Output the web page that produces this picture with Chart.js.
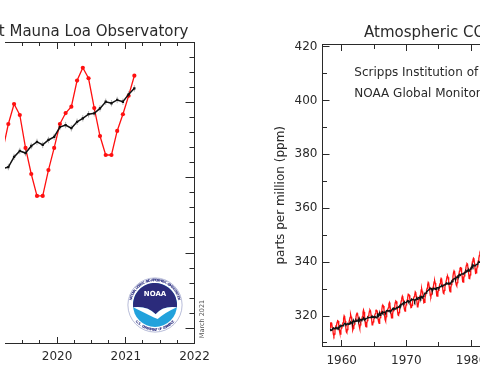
<!DOCTYPE html>
<html><head><meta charset="utf-8">
<script src="https://cdn.jsdelivr.net/npm/chart.js@4.4.1/dist/chart.umd.min.js"></script>
<style>
html,body{margin:0;padding:0;background:#fff;overflow:hidden;width:480px;height:376px;}
#wrapL{position:absolute;left:0;top:0;width:240px;height:376px;}
#wrapR{position:absolute;left:240px;top:0;width:240px;height:376px;}
canvas{display:block;}
</style></head><body>
<div id="wrapL"><canvas id="cL" width="240" height="376"></canvas></div>
<div id="wrapR"><canvas id="cR" width="240" height="376"></canvas></div>
<script>
// ---------- Left panel: recent monthly mean CO2 at Mauna Loa ----------
const leftMonths = ['2019-03','2019-04','2019-05','2019-06','2019-07','2019-08','2019-09','2019-10','2019-11','2019-12',
  '2020-01','2020-02','2020-03','2020-04','2020-05','2020-06','2020-07','2020-08','2020-09','2020-10','2020-11','2020-12',
  '2021-01','2021-02'];
const leftMonthly = [411.8,413.57,414.9,414.17,411.98,410.25,408.79,408.79,410.51,411.98,
  413.57,414.3,414.72,416.46,417.31,416.61,414.63,412.77,411.51,411.51,413.11,414.22,
  415.45,416.78];
const leftTrend = [410.6,410.71,411.38,411.78,411.64,412.11,412.38,412.18,412.51,412.71,
  413.37,413.5,413.29,413.72,413.95,414.22,414.28,414.61,415.05,414.95,415.17,415.05,
  415.54,415.94];
const leftXTicks = [2020, 2021, 2022];
const leftXMinor = [2019.5, 2019.75, 2020.25, 2020.5, 2020.75, 2021.25, 2021.5, 2021.75];
const leftYMajor = [400, 405, 410, 415];
const leftYMinor = [399,401,402,403,404,406,407,408,409,411,412,413,414,416,417,418,419];

// ---------- Right panel: atmospheric CO2 at Mauna Loa (monthly from 1958-03) ----------
const mloStart = '1958-03';
const mloMonthly = [
  315.71,317.45,317.50,317.10,315.86,314.93,313.20,312.66,313.33,314.67,
  315.62,316.38,316.71,317.72,318.29,318.15,316.54,314.80,313.84,313.26,314.80,315.58,
  316.43,316.97,317.58,319.02,320.03,319.59,318.18,315.91,314.16,313.83,315.00,316.19,
  316.93,317.70,318.54,319.48,320.58,319.77,318.57,316.79,314.80,315.38,316.10,317.01,
  317.94,318.56,319.68,320.63,321.01,320.55,319.58,317.40,316.26,315.42,316.69,317.69,
  318.74,319.08,319.86,321.39,322.25,321.47,319.74,317.77,316.21,315.99,317.12,318.31,
  319.57,320.07,320.73,321.77,322.25,321.89,320.44,318.70,316.70,316.79,317.79,318.71,
  319.44,320.44,320.89,322.13,322.16,321.87,321.39,318.81,317.81,317.30,318.87,319.42,
  320.62,321.59,322.39,323.87,324.01,323.75,322.39,320.37,318.64,318.10,319.79,321.08,
  322.07,322.50,323.04,324.42,325.00,324.09,322.55,320.92,319.31,319.31,320.72,321.96,
  322.57,323.15,323.89,325.02,325.57,325.36,324.14,322.03,320.41,320.25,321.31,322.84,
  324.00,324.42,325.64,326.66,327.34,326.76,325.88,323.67,322.38,321.78,322.85,324.11,
  325.03,325.99,326.87,328.13,328.07,327.66,326.35,324.69,323.10,323.16,323.98,325.13,
  326.17,326.68,327.18,327.78,328.92,328.57,327.34,325.46,323.36,323.57,324.80,326.01,
  326.77,327.63,327.75,329.72,330.07,329.09,328.05,326.32,324.93,325.06,326.50,327.55,
  328.54,329.56,330.30,331.50,332.48,332.07,330.87,329.31,327.51,327.18,328.16,328.64,
  329.35,330.71,331.48,332.65,333.09,332.25,331.18,329.40,327.43,327.37,328.46,329.57,
  330.40,331.40,332.04,333.31,333.96,333.59,331.91,330.06,328.56,328.34,329.49,330.76,
  331.75,332.56,333.50,334.58,334.87,334.34,333.05,330.94,329.30,328.94,330.31,331.68,
  332.93,333.42,334.70,336.07,336.74,336.27,334.93,332.75,331.58,331.16,332.40,333.85,
  334.97,335.38,336.64,337.76,338.01,337.89,336.54,334.68,332.76,332.54,333.92,334.95,
  336.23,336.76,337.96,338.89,339.47,339.29,337.73,336.09,333.91,333.86,335.29,336.73,
  338.01,338.36,340.08,340.77,341.46,341.17,339.56,337.60,335.88,336.01,337.10,338.21,
  339.24,340.48,341.38,342.51,342.91,342.25,340.49,338.43,336.69,336.85,338.36,339.61];
const mloTrend = [
  314.6,314.9,314.7,314.8,315.0,315.4,315.6,315.5,315.3,315.5,
  315.6,315.8,315.5,315.3,315.4,315.8,315.5,315.8,316.3,316.2,316.5,316.4,
  316.4,316.4,316.4,316.6,317.1,317.2,317.2,316.9,317.0,316.9,317.0,317.1,
  316.9,317.1,317.3,317.1,317.7,317.4,317.6,317.8,317.6,318.5,318.1,317.9,
  317.9,318.0,318.5,318.2,318.1,318.2,318.6,318.4,319.1,318.5,318.7,318.6,
  318.7,318.5,318.7,319.0,319.4,319.1,318.7,318.8,319.0,319.1,319.1,319.2,
  319.6,319.5,319.5,319.4,319.4,319.5,319.4,319.7,319.5,319.9,319.8,319.6,
  319.4,319.8,319.7,319.7,319.3,319.5,320.4,319.8,320.6,320.4,320.9,320.3,
  320.6,321.0,321.2,321.5,321.1,321.4,321.4,321.4,321.4,321.2,321.8,322.0,
  322.1,321.9,321.8,322.0,322.1,321.7,321.6,321.9,322.1,322.4,322.7,322.9,
  322.6,322.6,322.7,322.6,322.7,323.0,323.1,323.0,323.2,323.4,323.3,323.7,
  324.0,323.8,324.4,324.3,324.4,324.4,324.9,324.7,325.2,324.9,324.9,325.0,
  325.0,325.4,325.7,325.7,325.2,325.3,325.4,325.7,325.9,326.3,326.0,326.0,
  326.2,326.1,326.0,325.4,326.0,326.2,326.3,326.5,326.2,326.7,326.8,326.9,
  326.8,327.0,326.6,327.3,327.2,326.7,327.1,327.3,327.7,328.2,328.5,328.5,
  328.5,329.0,329.1,329.1,329.6,329.7,329.9,330.3,330.3,330.3,330.2,329.5,
  329.4,330.1,330.3,330.3,330.2,329.9,330.2,330.4,330.2,330.5,330.5,330.5,
  330.4,330.8,330.8,330.9,331.1,331.2,330.9,331.1,331.4,331.4,331.5,331.7,
  331.8,332.0,332.3,332.2,332.0,331.9,332.1,331.9,332.1,332.0,332.3,332.6,
  332.9,332.8,333.5,333.7,333.8,333.9,333.9,333.8,334.4,334.3,334.4,334.8,
  335.0,334.8,335.4,335.4,335.1,335.5,335.5,335.7,335.6,335.6,335.9,335.9,
  336.2,336.2,336.8,336.5,336.6,336.9,336.7,337.1,336.7,337.0,337.3,337.6,
  338.0,337.8,338.9,338.4,338.6,338.8,338.6,338.6,338.7,339.1,339.1,339.1,
  339.2,339.9,340.2,340.1,340.0,339.9,339.5,339.4,339.5,340.0,340.4,340.5];
const rightXTicks = [1960, 1970, 1980];
const rightXMinor = [1965, 1975];
const rightYTicks = [320, 340, 360, 380, 400, 420];
const rightYMinor = [310, 330, 350, 370, 390, 410];

// ---------- helpers ----------
Chart.defaults.font.family = "'DejaVu Sans', sans-serif";
Chart.defaults.color = '#2a2a2a';
const FONT = "'DejaVu Sans', sans-serif";
const TXT = '#2a2a2a';

function monthToYear(s) { const [y, m] = s.split('-').map(Number); return y + (m - 0.5) / 12; }
function monthSeq(start, n) {
  let [y, m] = start.split('-').map(Number); const out = [];
  for (let i = 0; i < n; i++) { out.push(y + (m - 0.5) / 12); m++; if (m > 12) { m = 1; y++; } }
  return out;
}
const pairs = (xs, ys) => ys.map((v, i) => ({x: xs[i], y: v}));
const snap = v => Math.round(v - 0.5) + 0.5;

function framePlugin(cfg) {
  return {
    id: 'frame_' + cfg.name,
    afterDatasetsDraw(chart) {
      const {ctx, chartArea: a, scales: {x, y}} = chart;
      const L = snap(a.left), R = snap(a.right), T = snap(a.top), B = snap(a.bottom);
      ctx.save();
      ctx.strokeStyle = '#2a2a2a'; ctx.lineWidth = 1;
      ctx.beginPath();
      if (cfg.sides.includes('top')) { ctx.moveTo(L - 0.5, T); ctx.lineTo(R + 0.5, T); }
      if (cfg.sides.includes('bottom')) { ctx.moveTo(L - 0.5, B); ctx.lineTo(R + 0.5, B); }
      if (cfg.sides.includes('left')) { ctx.moveTo(L, T); ctx.lineTo(L, B); }
      if (cfg.sides.includes('right')) { ctx.moveTo(R, T); ctx.lineTo(R, B); }
      const xt = (vals, len) => vals.forEach(v => {
        const p = snap(x.getPixelForValue(v));
        if (p < a.left - 1 || p > a.right + 1) return;
        if (cfg.sides.includes('top')) { ctx.moveTo(p, T); ctx.lineTo(p, T + len); }
        if (cfg.sides.includes('bottom')) { ctx.moveTo(p, B); ctx.lineTo(p, B - len); }
      });
      const yt = (vals, len) => vals.forEach(v => {
        const p = snap(y.getPixelForValue(v));
        if (p < a.top - 1 || p > a.bottom + 1) return;
        if (cfg.sides.includes('left')) { ctx.moveTo(L, p); ctx.lineTo(L + len, p); }
        if (cfg.sides.includes('right')) { ctx.moveTo(R, p); ctx.lineTo(R - len, p); }
      });
      xt(cfg.xMajor, cfg.xMajLen); xt(cfg.xMinor, cfg.xMinLen);
      yt(cfg.yMajor, cfg.yMajLen); yt(cfg.yMinor, cfg.yMinLen);
      ctx.stroke();
      ctx.restore();
    }
  };
}

function textPlugin(name, items) {
  return {
    id: 'text_' + name,
    afterDraw(chart) {
      const ctx = chart.ctx;
      items.forEach(t => {
        ctx.save();
        ctx.font = t.font; ctx.fillStyle = t.color || TXT;
        ctx.textAlign = t.align || 'left'; ctx.textBaseline = t.baseline || 'alphabetic';
        ctx.translate(t.x, t.y);
        if (t.rot) ctx.rotate(t.rot);
        ctx.fillText(t.text, 0, 0);
        ctx.restore();
      });
    }
  };
}

function arcText(ctx, str, cx, cy, rad, a0, a1, top) {
  const n = str.length;
  for (let i = 0; i < n; i++) {
    const th = a0 + (a1 - a0) * (i / (n - 1));
    ctx.save();
    ctx.translate(cx + rad * Math.cos(th), cy + rad * Math.sin(th));
    ctx.rotate(top ? th + Math.PI / 2 : th - Math.PI / 2);
    ctx.fillText(str[i], 0, 0);
    ctx.restore();
  }
}

const logoPlugin = {
  id: 'noaaLogo',
  afterDraw(chart) {
    const ctx = chart.ctx;
    const cx = 155, cy = 305, R = 27.5, r = 22;
    ctx.save();
    ctx.fillStyle = '#fff';
    ctx.beginPath(); ctx.arc(cx, cy, R, 0, 2 * Math.PI); ctx.fill();
    ctx.strokeStyle = '#9aa0c8'; ctx.lineWidth = 0.7;
    ctx.beginPath(); ctx.arc(cx, cy, R - 0.4, 0, 2 * Math.PI); ctx.stroke();
    // ring text
    ctx.fillStyle = '#3a3d8a'; ctx.font = "bold 3.4px " + FONT;
    ctx.textAlign = 'center'; ctx.textBaseline = 'middle';
    arcText(ctx, 'NATIONAL OCEANIC AND ATMOSPHERIC ADMINISTRATION', cx, cy, R - 2.8, Math.PI + 0.25, 2 * Math.PI - 0.25, true);
    arcText(ctx, 'U.S. DEPARTMENT OF COMMERCE', cx, cy, R - 2.8, Math.PI - 0.75, 0.75, false);
    // light blue disk
    ctx.fillStyle = '#22a2dc';
    ctx.beginPath(); ctx.arc(cx, cy, r, 0, 2 * Math.PI); ctx.fill();
    // navy top
    const a1 = Math.PI - 0.1, a2 = 0.1;
    const lx = cx + r * Math.cos(a1), ly = cy + r * Math.sin(a1);
    const rx = cx + r * Math.cos(a2), ry = cy + r * Math.sin(a2);
    ctx.fillStyle = '#2b2b7b';
    ctx.beginPath(); ctx.moveTo(lx, ly);
    ctx.arc(cx, cy, r, a1, a2, false);
    ctx.quadraticCurveTo(cx + r * 0.35, cy + r * 0.02, cx + r * 0.03, cy + r * 0.42);
    ctx.quadraticCurveTo(cx - r * 0.35, cy + r * 0.02, lx, ly);
    ctx.fill();
    // white gull
    ctx.fillStyle = '#fff';
    ctx.beginPath(); ctx.moveTo(lx, ly);
    ctx.quadraticCurveTo(cx - r * 0.35, cy + r * 0.02, cx + r * 0.03, cy + r * 0.42);
    ctx.quadraticCurveTo(cx + r * 0.35, cy + r * 0.02, rx, ry);
    ctx.quadraticCurveTo(cx + r * 0.45, cy + r * 0.34, cx + r * 0.12, cy + r * 0.64);
    ctx.lineTo(cx - r * 0.05, cy + r * 0.57);
    ctx.quadraticCurveTo(cx - r * 0.5, cy + r * 0.34, lx, ly);
    ctx.fill();
    ctx.fillStyle = '#fff'; ctx.font = "bold 7px " + FONT;
    ctx.textAlign = 'center'; ctx.textBaseline = 'middle';
    ctx.fillText('NOAA', cx, cy - r * 0.48);
    ctx.restore();
  }
};

// ---------- Left chart ----------
const lxs = leftMonths.map(monthToYear);
new Chart(document.getElementById('cL'), {
  type: 'line',
  data: {
    datasets: [
      {label: 'monthly mean', data: pairs(lxs, leftMonthly), borderColor: '#ff1010', backgroundColor: '#ff1010',
       borderWidth: 1.3, pointRadius: 2.1, pointStyle: 'circle', pointBorderWidth: 0, tension: 0, order: 3},
      {label: 'trend', data: pairs(lxs, leftTrend), borderColor: '#111', backgroundColor: '#111',
       borderWidth: 1.5, pointRadius: 1.6, pointStyle: 'rect', pointBorderWidth: 0, tension: 0, order: 1},
      {label: 'uncertainty', data: pairs(lxs, leftTrend), showLine: false, borderColor: 'rgba(0,0,0,0.3)',
       pointStyle: 'line', rotation: 90, pointRadius: 3.2, pointBorderWidth: 1, order: 2}
    ]
  },
  options: {
    responsive: false, animation: false, events: [],
    layout: {padding: {top: 42.3, right: 45.5, bottom: 0, left: 0}},
    plugins: {legend: {display: false}, tooltip: {enabled: false}},
    scales: {
      x: {type: 'linear', position: 'bottom', min: 2019.243, max: 2022,
          afterBuildTicks: s => { s.ticks = leftXTicks.map(v => ({value: v})); },
          afterFit: s => { s.height = 32.7; s.paddingLeft = 0; s.paddingRight = 0; },
          grid: {display: false, drawTicks: false}, border: {display: false},
          ticks: {font: {size: 12}, color: TXT, padding: 6.5, maxRotation: 0, autoSkip: false,
                  callback: v => String(v)}},
      y: {type: 'linear', display: false, min: 399, max: 419}
    }
  },
  plugins: [
    framePlugin({name: 'L', sides: ['top', 'bottom', 'right'], xMajor: leftXTicks, xMinor: leftXMinor,
                 yMajor: leftYMajor, yMinor: leftYMinor, xMajLen: 6.5, xMinLen: 3.5, yMajLen: 9, yMinLen: 5}),
    logoPlugin,
    textPlugin('L', [
      {text: 'Recent monthly mean CO\u2082 at Mauna Loa Observatory', x: 188.5, y: 36, align: 'right', font: '15px ' + FONT},
      {text: 'March 2021', x: 202.5, y: 319, align: 'center', baseline: 'middle', rot: -Math.PI / 2, font: '6.5px ' + FONT, color: '#555'}
    ])
  ]
});

// ---------- Right chart ----------
const rxs = monthSeq(mloStart, mloMonthly.length);
new Chart(document.getElementById('cR'), {
  type: 'line',
  data: {
    datasets: [
      {label: 'monthly mean', data: pairs(rxs, mloMonthly), borderColor: '#ff1010', borderWidth: 1.3,
       pointRadius: 0, tension: 0, order: 2},
      {label: 'trend', data: pairs(rxs, mloTrend), borderColor: '#111', borderWidth: 1.4,
       pointRadius: 0, tension: 0, order: 1}
    ]
  },
  options: {
    responsive: false, animation: false, events: [],
    layout: {padding: {top: 44, right: 0, bottom: 0, left: 0}},
    plugins: {legend: {display: false}, tooltip: {enabled: false}},
    scales: {
      x: {type: 'linear', position: 'bottom', min: 1957.03, max: 1981.39,
          afterBuildTicks: s => { s.ticks = rightXTicks.map(v => ({value: v})); },
          afterFit: s => { s.height = 29.5; s.paddingLeft = 0; s.paddingRight = 0; },
          grid: {display: false, drawTicks: false}, border: {display: false},
          ticks: {font: {size: 12}, color: TXT, padding: 7.3, maxRotation: 0, autoSkip: false,
                  callback: v => String(v)}},
      y: {type: 'linear', position: 'left', min: 308.69, max: 420.93,
          afterBuildTicks: s => { s.ticks = rightYTicks.map(v => ({value: v})); },
          afterFit: s => { s.width = 82.5; s.paddingTop = 0; s.paddingBottom = 0; },
          grid: {display: false, drawTicks: false}, border: {display: false},
          ticks: {font: {size: 12}, color: TXT, padding: 5, autoSkip: false, callback: v => String(v)},
          title: {display: true, text: 'parts per million (ppm)', color: TXT, font: {size: 12},
                  padding: {top: 34, bottom: 0}}}
    }
  },
  plugins: [
    framePlugin({name: 'R', sides: ['top', 'bottom', 'left'], xMajor: rightXTicks, xMinor: rightXMinor,
                 yMajor: rightYTicks, yMinor: rightYMinor, xMajLen: 6.5, xMinLen: 4.5, yMajLen: 7, yMinLen: 4.5}),
    textPlugin('R', [
      {text: 'Atmospheric CO\u2082 at Mauna Loa Observatory', x: 124, y: 37, align: 'left', font: '15px ' + FONT},
      {text: 'Scripps Institution of Oceanography', x: 114.3, y: 76, align: 'left', font: '12px ' + FONT},
      {text: 'NOAA Global Monitoring Laboratory', x: 114.3, y: 97, align: 'left', font: '12px ' + FONT}
    ])
  ]
});
</script>
</body></html>
